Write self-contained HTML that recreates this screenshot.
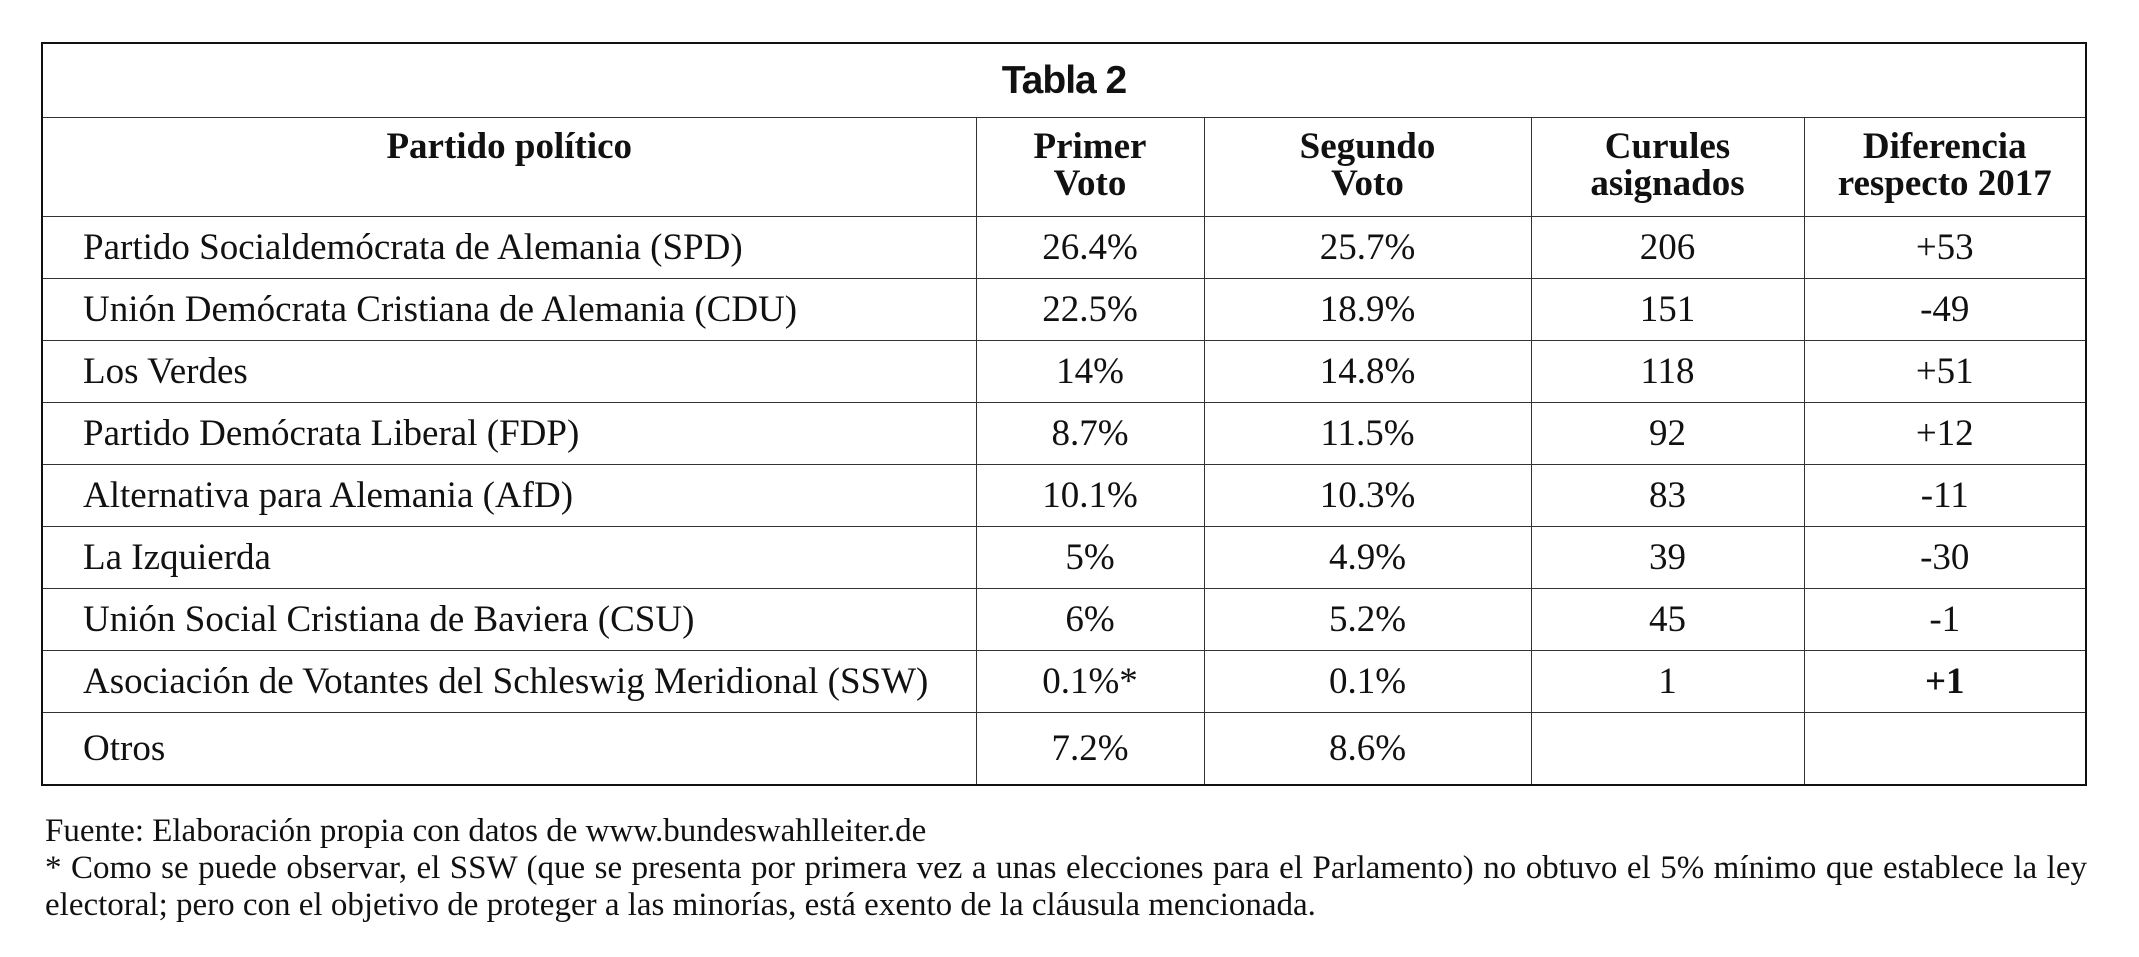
<!DOCTYPE html>
<html><head><meta charset="utf-8"><style>
body{margin:0;width:2139px;height:957px;background:#fff;position:relative;font-family:"Liberation Serif",serif;color:#111;overflow:hidden}
table{position:absolute;left:41px;top:42px;width:2046px;border-collapse:collapse;border:2px solid #111;table-layout:fixed}
td,th{border:1.5px solid #333;font-size:37px;text-align:center;padding:0;font-weight:normal;white-space:nowrap}
th{font-weight:bold;vertical-align:top;padding-top:10px;line-height:37px}
td.l{text-align:left;padding-left:40px}
tr.r td{height:61px}
.title{font-family:"Liberation Sans",sans-serif;font-weight:bold;font-size:39px;height:73px;vertical-align:middle;padding:0;letter-spacing:-1px}
.foot{position:absolute;left:45px;top:813px;width:2042px;font-size:33px;line-height:37px}
.j{text-align:justify;text-align-last:justify}
</style></head><body>
<table>
<colgroup><col style="width:934px"><col style="width:228px"><col style="width:327px"><col style="width:273px"><col></colgroup>
<tr><th colspan="5" class="title">Tabla 2</th></tr>
<tr style="height:99px"><th>Partido político</th><th>Primer<br>Voto</th><th>Segundo<br>Voto</th><th>Curules<br>asignados</th><th>Diferencia<br>respecto 2017</th></tr>
<tr class="r"><td class="l">Partido Socialdemócrata de Alemania (SPD)</td><td>26.4%</td><td>25.7%</td><td>206</td><td>+53</td></tr>
<tr class="r"><td class="l">Unión Demócrata Cristiana de Alemania (CDU)</td><td>22.5%</td><td>18.9%</td><td>151</td><td>-49</td></tr>
<tr class="r"><td class="l">Los Verdes</td><td>14%</td><td>14.8%</td><td>118</td><td>+51</td></tr>
<tr class="r"><td class="l">Partido Demócrata Liberal (FDP)</td><td>8.7%</td><td>11.5%</td><td>92</td><td>+12</td></tr>
<tr class="r"><td class="l">Alternativa para Alemania (AfD)</td><td>10.1%</td><td>10.3%</td><td>83</td><td>-11</td></tr>
<tr class="r"><td class="l">La Izquierda</td><td>5%</td><td>4.9%</td><td>39</td><td>-30</td></tr>
<tr class="r"><td class="l">Unión Social Cristiana de Baviera (CSU)</td><td>6%</td><td>5.2%</td><td>45</td><td>-1</td></tr>
<tr class="r"><td class="l">Asociación de Votantes del Schleswig Meridional (SSW)</td><td>0.1%*</td><td>0.1%</td><td>1</td><td><b>+1</b></td></tr>
<tr class="r"><td class="l" style="height:71px">Otros</td><td>7.2%</td><td>8.6%</td><td></td><td></td></tr>
</table>
<div class="foot"><div>Fuente: Elaboración propia con datos de www.bundeswahlleiter.de</div><div class="j">* Como se puede observar, el SSW (que se presenta por primera vez a unas elecciones para el Parlamento) no obtuvo el 5% mínimo que establece la ley</div><div>electoral; pero con el objetivo de proteger a las minorías, está exento de la cláusula mencionada.</div></div>
</body></html>
